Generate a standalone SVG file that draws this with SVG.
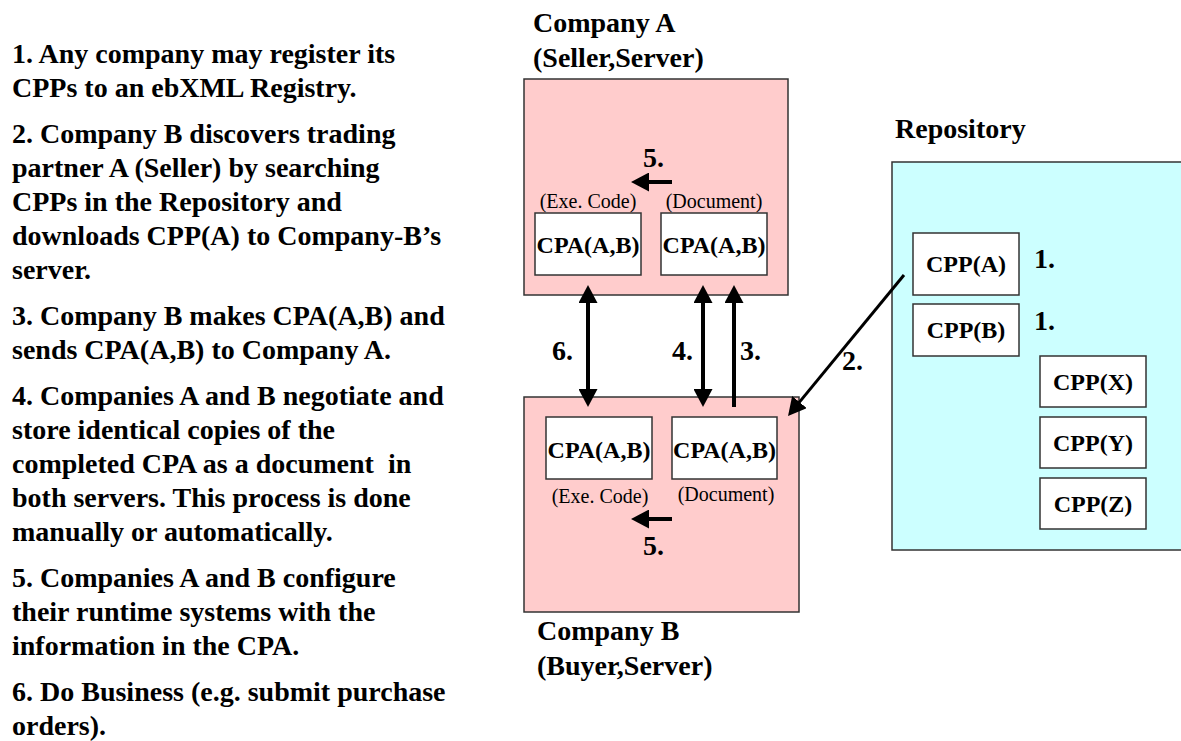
<svg xmlns="http://www.w3.org/2000/svg" width="1181" height="741" viewBox="0 0 1181 741">
<style>
text{font-family:"Liberation Serif","Times New Roman",serif;fill:#000}
.b{font-weight:bold;font-size:28px}
.lbl{font-weight:bold;font-size:24px;text-anchor:middle}
.sm{font-size:20px;text-anchor:middle}
.co{fill:#FFCCCC;stroke:#333;stroke-width:1.5}
.rep{fill:#CCFFFF;stroke:#333;stroke-width:1.5}
.box{fill:#fff;stroke:#333;stroke-width:1.5}
.ar{stroke:#000;stroke-width:4;fill:none}
.ar2{stroke:#000;stroke-width:3;fill:none}
</style>
<defs>
<marker id="ah" viewBox="0 0 18 19" refX="2" refY="9.5" markerWidth="18" markerHeight="19" markerUnits="userSpaceOnUse" orient="auto-start-reverse">
<path d="M0,0 L18,9.5 L0,19 z" fill="#000"/>
</marker>
</defs>
<g id="steps" class="b">
<text x="12" y="63">1. Any company may register its</text>
<text x="12" y="97">CPPs to an ebXML Registry.</text>
<text x="12" y="142.5">2. Company B discovers trading</text>
<text x="12" y="176.7">partner A (Seller) by searching</text>
<text x="12" y="210.9">CPPs in the Repository and</text>
<text x="12" y="245.1">downloads CPP(A) to Company-B’s</text>
<text x="12" y="279.3">server.</text>
<text x="12" y="324.8">3. Company B makes CPA(A,B) and</text>
<text x="12" y="359">sends CPA(A,B) to Company A.</text>
<text x="12" y="404.5">4. Companies A and B negotiate and</text>
<text x="12" y="438.7">store identical copies of the</text>
<text x="12" y="472.9" style="white-space:pre">completed CPA as a document  in</text>
<text x="12" y="507.1">both servers. This process is done</text>
<text x="12" y="541.3">manually or automatically.</text>
<text x="12" y="586.8">5. Companies A and B configure</text>
<text x="12" y="621">their runtime systems with the</text>
<text x="12" y="655.2">information in the CPA.</text>
<text x="12" y="700.7">6. Do Business (e.g. submit purchase</text>
<text x="12" y="734.9">orders).</text>
</g>
<g id="companyA">
<text class="b" x="533" y="32">Company A</text>
<text class="b" x="533" y="67">(Seller,Server)</text>
<rect class="co" x="524" y="79" width="264" height="216"/>
<text class="sm" x="588" y="208">(Exe. Code)</text>
<text class="sm" x="714" y="208">(Document)</text>
<rect class="box" x="535" y="213" width="106" height="62"/>
<rect class="box" x="661" y="213" width="106" height="62"/>
<text class="lbl" x="588" y="253">CPA(A,B)</text>
<text class="lbl" x="714" y="253">CPA(A,B)</text>
<text class="b" x="643" y="167">5.</text>
<line class="ar" x1="672" y1="182" x2="647" y2="182" marker-end="url(#ah)"/>
</g>
<g id="companyB">
<rect class="co" x="524" y="397" width="275" height="215"/>
<rect class="box" x="546" y="417" width="106" height="62"/>
<rect class="box" x="672" y="417" width="105" height="62"/>
<text class="lbl" x="599" y="458">CPA(A,B)</text>
<text class="lbl" x="724.5" y="458">CPA(A,B)</text>
<text class="sm" x="600" y="503">(Exe. Code)</text>
<text class="sm" x="726" y="501">(Document)</text>
<line class="ar" x1="672" y1="519" x2="647" y2="519" marker-end="url(#ah)"/>
<text class="b" x="643" y="555">5.</text>
<text class="b" x="537" y="640">Company B</text>
<text class="b" x="537" y="675">(Buyer,Server)</text>
</g>
<g id="repository">
<text class="b" x="895" y="138">Repository</text>
<rect class="rep" x="892" y="162" width="295" height="388"/>
<rect class="box" x="913" y="233" width="106" height="62"/>
<text class="lbl" x="966" y="272">CPP(A)</text>
<rect class="box" x="913" y="304" width="106" height="52"/>
<text class="lbl" x="966" y="338">CPP(B)</text>
<text class="b" x="1034" y="268">1.</text>
<text class="b" x="1034" y="330">1.</text>
<rect class="box" x="1040" y="356" width="106" height="51"/>
<text class="lbl" x="1093" y="390">CPP(X)</text>
<rect class="box" x="1040" y="417" width="106" height="51"/>
<text class="lbl" x="1093" y="451">CPP(Y)</text>
<rect class="box" x="1040" y="478" width="106" height="51"/>
<text class="lbl" x="1093" y="512">CPP(Z)</text>
</g>
<g id="connectors">
<line class="ar" x1="588" y1="301" x2="588" y2="391" marker-start="url(#ah)" marker-end="url(#ah)"/>
<line class="ar" x1="703" y1="301" x2="703" y2="391" marker-start="url(#ah)" marker-end="url(#ah)"/>
<line class="ar" x1="734" y1="407" x2="734" y2="301" marker-end="url(#ah)"/>
<line class="ar2" x1="904" y1="275" x2="798.2" y2="403.6" marker-end="url(#ah)"/>
<text class="b" x="552" y="360">6.</text>
<text class="b" x="672" y="360">4.</text>
<text class="b" x="740" y="360">3.</text>
<text class="b" x="842" y="370">2.</text>
</g>
</svg>
